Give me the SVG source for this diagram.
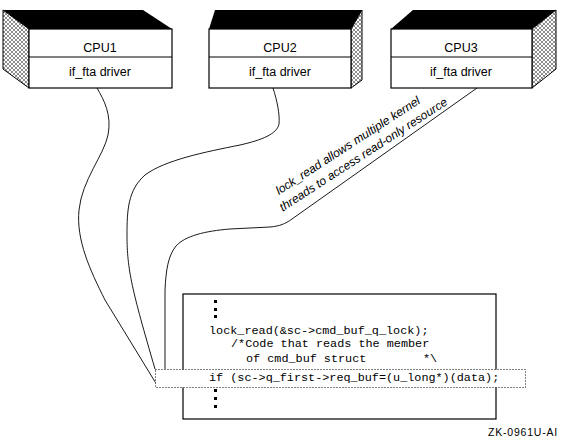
<svg xmlns="http://www.w3.org/2000/svg" width="576" height="441" viewBox="0 0 576 441">
<defs>
<pattern id="hatch" patternUnits="userSpaceOnUse" width="4" height="4">
<rect width="4" height="4" fill="#fff"/>
<path d="M0,0 L4,4 M4,0 L0,4" stroke="#000" stroke-width="0.45"/>
</pattern>
<style>
.top{fill:#000}
.side{fill:url(#hatch);stroke:#000;stroke-width:1}
.front{fill:#fff;stroke:#000;stroke-width:1.2}
.div{stroke:#000;stroke-width:1}
.lbl{font-family:"Liberation Sans",Arial,sans-serif;font-size:12.5px;text-anchor:middle;fill:#000}
.code{font-family:"Liberation Mono","Courier New",monospace;font-size:11.8px;fill:#000;white-space:pre}
.note{font-family:"Liberation Sans",Arial,sans-serif;font-size:12px;font-style:italic;fill:#000}
.conn{fill:none;stroke:#000;stroke-width:0.9}
.dot{fill:#000}
</style>
</defs>
<rect width="576" height="441" fill="#fff"/>

<g id="connectors">
<path class="conn" d="M97,88 C104,100 112,115 108,135 C104,155 82,180 79,210 C76,240 90,270 105,300 L157,385"/>
<path class="conn" d="M273,88 C277,100 280,115 279,124 C277,134 262,140 240,145 C205,152 165,160 145,175 C128,190 127,210 127,235 C127,270 132,290 155,369"/>
<path class="conn" d="M477,88 L292,219 C285,224 280,226 270,227 L230,229 C205,231 185,236 176,246 C168,256 166,270 165,290 L165,369"/>
</g>

<g id="cpu1">
<polygon class="top" points="3,10 143,10 172,29 29,29"/>
<polygon class="side" points="3,10 29,29 29,88 3,69"/>
<rect class="front" x="29" y="29" width="143" height="59"/>
<line class="div" x1="29" y1="57" x2="172" y2="57"/>
<text class="lbl" x="100" y="52">CPU1</text>
<text class="lbl" x="100" y="76">if_fta driver</text>
</g>

<g id="cpu2">
<polygon class="top" points="215,10 362,10 351,29 209,29"/>
<polygon class="side" points="351,29 362,10 362,80 351,88"/>
<rect class="front" x="209" y="29" width="142" height="59"/>
<line class="div" x1="209" y1="57" x2="351" y2="57"/>
<text class="lbl" x="280" y="52">CPU2</text>
<text class="lbl" x="280" y="76">if_fta driver</text>
</g>

<g id="cpu3">
<polygon class="top" points="413,10 556,10 532,29 391,29"/>
<polygon class="side" points="532,29 556,10 556,69 532,88"/>
<rect class="front" x="391" y="29" width="141" height="59"/>
<line class="div" x1="391" y1="57" x2="532" y2="57"/>
<text class="lbl" x="461" y="52">CPU3</text>
<text class="lbl" x="461" y="76">if_fta driver</text>
</g>

<g id="annotation" transform="translate(279,195) rotate(-33)">
<text class="note" x="0" y="0">lock_read allows multiple kernel</text>
<text class="note" x="-6" y="16">threads to access read-only resource</text>
</g>

<g id="code">
<rect x="183" y="294" width="313" height="125" fill="#fff" stroke="#000" stroke-width="1.2"/>
<rect class="dot" x="214" y="300" width="3" height="3"/>
<rect class="dot" x="214" y="308" width="3" height="3"/>
<rect class="dot" x="214" y="315" width="3" height="3"/>
<text class="code" x="209" y="334">lock_read(&amp;sc-&gt;cmd_buf_q_lock);</text>
<text class="code" x="231" y="347">/*Code that reads the member</text>
<text class="code" x="246" y="362">of cmd_buf struct</text>
<text class="code" x="423" y="362">*\</text>
<rect x="155.5" y="369.5" width="370" height="18" fill="#fff" stroke="#000" stroke-width="1" stroke-dasharray="1,2"/>
<text class="code" x="209" y="381">if (sc-&gt;q_first-&gt;req_buf=(u_long*)(data);</text>
<rect class="dot" x="214" y="389" width="3" height="3"/>
<rect class="dot" x="214" y="397" width="3" height="3"/>
<rect class="dot" x="214" y="405" width="3" height="3"/>
</g>

<text x="488" y="436" font-family="Liberation Sans,Arial,sans-serif" font-size="10.5" fill="#000" letter-spacing="0.8">ZK-0961U-AI</text>
</svg>
